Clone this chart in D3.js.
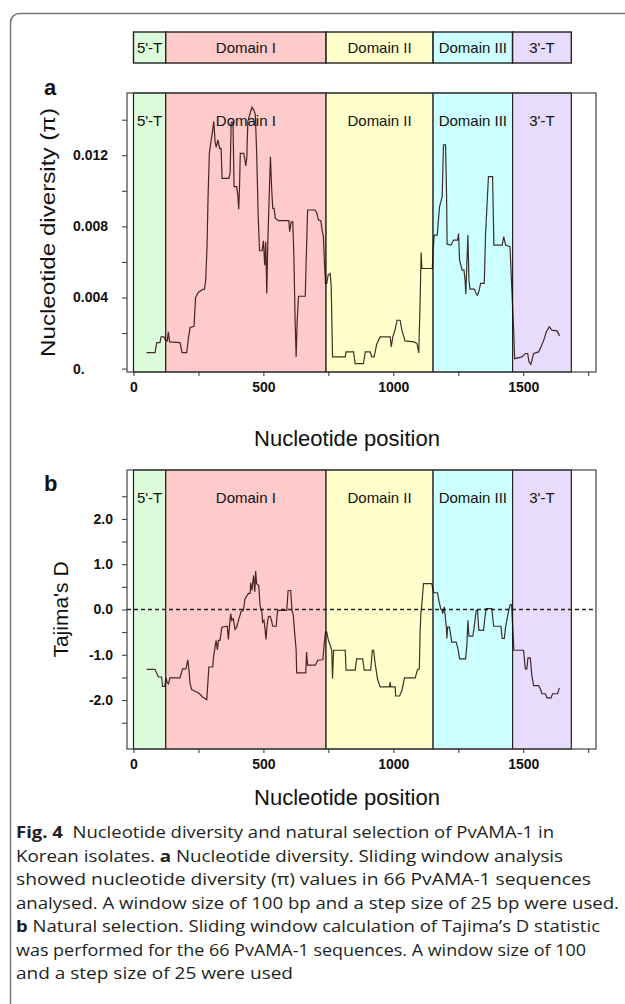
<!DOCTYPE html>
<html lang="en">
<head>
<meta charset="UTF-8" />
<title>PvAMA-1 sliding window</title>
<script src="https://d3js.org/d3.v7.min.js"></script>
<style>
  body { margin: 0; background: #fff; }
  svg { display: block; font-family: "Liberation Sans", Arial, sans-serif; }
  .tick text { font-weight: bold; font-size: 14px; fill: #111; font-family: "Liberation Sans", Arial, sans-serif; }
  .caption { font-family: "Open Sans", sans-serif; font-size: 16px; fill: #231f20; }
</style>
</head>
<body>
<svg id="fig" width="625" height="1004"></svg>
<script>
// gene regions
const regionNames = ["5'-T", "Domain I", "Domain II", "Domain III", "3'-T"];
const regionStart = [0, 124, 741, 1153, 1459];
const regionEnd = [124, 741, 1153, 1459, 1685];
const regionColors = ["#dcfcdc", "#ffcaca", "#ffffcc", "#ccffff", "#e8dcfc"];

// nucleotide diversity (pi)
const piPos = [50,83,89,102,106,117,123,130,134,139,179,187,205,211,218,233,239,250,266,273,
  278,283,287,292,298,304,309,314,318,325,331,337,341,367,372,376,383,387,397,402,
  405,408,411,424,428,432,436,440,449,456,464,469,474,480,485,495,500,505,509,513,
  517,523,527,532,536,541,546,558,598,601,607,613,617,622,626,630,635,661,664,670,
  699,705,712,721,726,731,735,739,744,749,757,761,766,815,818,847,853,885,892,911,
  917,926,936,949,988,992,998,1007,1014,1026,1033,1045,1080,1091,1098,1103,1107,1110,1150,1153,
  1157,1169,1173,1178,1188,1193,1201,1205,1207,1222,1232,1247,1251,1255,1265,1272,1276,1279,1283,1287,
  1291,1295,1312,1317,1323,1329,1336,1350,1355,1361,1366,1382,1387,1419,1425,1432,1449,1454,1463,1467,
  1495,1508,1517,1522,1529,1540,1559,1568,1578,1589,1600,1610,1630,1640];
const piVal = [0.0009,0.0009,0.00146,0.00146,0.00178,0.00178,0.0016,0.00156,0.00207,0.0015,
  0.00146,0.0009,0.0009,0.00169,0.00231,0.00238,0.004,0.0043,0.00445,0.00447,
  0.00497,0.00685,0.00967,0.01211,0.01277,0.01333,0.0139,0.01277,0.01245,0.01286,
  0.01239,0.01239,0.0107,0.0107,0.01102,0.01385,0.01385,0.01023,0.01023,0.00967,
  0.00896,0.01023,0.01211,0.01211,0.01183,0.0114,0.01183,0.0139,0.01436,0.0147,
  0.01451,0.01427,0.01211,0.00854,0.00663,0.00663,0.00719,0.00582,0.00714,0.00422,
  0.00714,0.01005,0.01192,0.01005,0.00901,0.00901,0.00845,0.00832,0.00832,0.0077,
  0.00826,0.00826,0.00648,0.00272,0.00066,0.00272,0.00407,0.00407,0.00573,0.00892,
  0.00892,0.00877,0.00836,0.00832,0.00776,0.00742,0.00591,0.00479,0.00479,0.00526,
  0.00535,0.0046,0.00066,0.00066,0.00094,0.00094,0.00028,0.00028,0.00094,0.00094,
  0.00066,0.00066,0.00137,0.00178,0.00178,0.00122,0.00178,0.0022,0.00272,0.00272,
  0.00216,0.00156,0.0015,0.00141,0.00088,0.00375,0.00653,0.00563,0.00563,0.00653,
  0.00751,0.00751,0.00826,0.00911,0.00967,0.01258,0.01258,0.00967,0.007,0.00695,
  0.00723,0.00723,0.0076,0.0061,0.00554,0.00554,0.00498,0.00418,0.00591,0.00751,
  0.00498,0.00447,0.00447,0.00428,0.00413,0.00432,0.00479,0.00479,0.0076,0.00929,
  0.0108,0.0108,0.00695,0.00695,0.00742,0.00695,0.00685,0.00516,0.00216,0.00056,
  0.00066,0.00085,0.00085,0.00038,0.00024,0.00085,0.00094,0.00122,0.00156,0.00207,
  0.00235,0.00216,0.00212,0.00184];

// Tajima's D
const tajPos = [51,83,89,96,108,112,120,125,130,135,140,179,183,189,202,209,213,218,224,243,
  254,266,282,286,290,305,308,318,323,327,333,340,361,365,369,374,378,384,391,397,
  404,414,423,429,442,449,451,456,462,467,470,474,482,487,494,497,502,506,510,514,
  519,526,531,536,549,554,558,590,595,605,610,615,621,626,628,635,663,666,670,677,
  700,709,729,734,739,744,750,757,763,766,770,815,818,853,859,882,888,913,919,924,
  931,939,949,985,988,990,1007,1009,1024,1033,1043,1084,1093,1100,1103,1106,1111,1116,1148,1155,
  1170,1175,1183,1188,1190,1196,1204,1206,1209,1216,1225,1242,1250,1255,1278,1283,1287,1291,1306,1312,
  1319,1324,1329,1347,1352,1357,1379,1386,1414,1419,1427,1432,1444,1450,1455,1460,1464,1501,1508,1514,
  1518,1527,1533,1540,1559,1566,1572,1585,1591,1607,1613,1632,1639];
const tajVal = [-1.32,-1.32,-1.40,-1.49,-1.49,-1.70,-1.70,-1.51,-1.62,-1.64,-1.51,-1.51,-1.42,-1.31,-1.31,-1.11,-1.31,-1.64,-1.77,-1.82,
  -1.86,-1.93,-1.99,-1.64,-1.27,-1.27,-1.05,-0.68,-0.89,-0.68,-0.68,-0.39,-0.37,-0.66,-0.39,-0.09,-0.24,-0.20,-0.44,-0.39,
  -0.24,-0.05,-0.02,0.24,0.35,0.36,0.59,0.42,0.75,0.39,0.85,0.57,0.53,0.09,-0.05,-0.28,-0.24,-0.42,-0.66,-0.35,
  -0.16,-0.15,-0.24,-0.37,-0.37,-0.05,-0.02,-0.02,0.42,0.42,-0.02,-0.13,-0.57,-0.90,-1.40,-1.40,-1.40,-0.94,-1.23,-1.23,
  -1.23,-1.12,-1.11,-0.75,-0.50,-0.50,-0.68,-0.79,-0.90,-1.53,-0.90,-0.90,-1.34,-1.34,-1.09,-1.09,-1.34,-1.34,-0.90,-0.90,
  -1.23,-1.53,-1.71,-1.71,-1.60,-1.71,-1.71,-1.91,-1.91,-1.79,-1.51,-1.51,-1.33,-1.31,-0.50,-0.09,0.20,0.57,0.57,0.37,
  0.37,0.20,0.00,-0.02,-0.09,0.06,-0.39,-0.64,-0.39,-0.39,-0.72,-0.72,-0.90,-1.09,-1.09,-0.79,-0.24,-0.59,-0.59,-0.35,
  -0.02,-0.02,-0.46,-0.46,-0.20,0.02,0.02,-0.37,-0.37,-0.64,-0.64,-0.39,-0.02,0.11,0.11,-0.46,-0.90,-0.90,-1.31,-1.31,
  -1.07,-1.07,-1.45,-1.68,-1.68,-1.75,-1.86,-1.86,-1.95,-1.95,-1.86,-1.86,-1.73];

// axes
const xTicks = [0, 250, 500, 750, 1000, 1250, 1500, 1750];
const xLabeled = [0, 500, 1000, 1500];
const piTicks = [0, 0.002, 0.004, 0.006, 0.008, 0.010, 0.012, 0.014];
const piTickLabels = ["0.", "", "0.004", "", "0.008", "", "0.012", ""];
const tajTicks = [-2.5, -2, -1.5, -1, -0.5, 0, 0.5, 1, 1.5, 2, 2.5];
const tajTickLabels = ["", "-2.0", "", "-1.0", "", "0.0", "", "1.0", "", "2.0", ""];

const captionLines = [
  [["Fig. 4", true], ["  Nucleotide diversity and natural selection of PvAMA-1 in", false]],
  [["Korean isolates. ", false], ["a", true], [" Nucleotide diversity. Sliding window analysis", false]],
  [["showed nucleotide diversity (\u03c0) values in 66 PvAMA-1 sequences", false]],
  [["analysed. A window size of 100 bp and a step size of 25 bp were used.", false]],
  [["b", true], [" Natural selection. Sliding window calculation of Tajima\u2019s D statistic", false]],
  [["was performed for the 66 PvAMA-1 sequences. A window size of 100", false]],
  [["and a step size of 25 were used", false]]
];
const captionWidths = [538, 547, 575, 603, 584, 570, 277];

const svg = d3.select("#fig");
const left = 127, right = 596;
const x = d3.scaleLinear().domain([-25, 1780]).range([left, right]);

// outer frame
svg.append("rect")
  .attr("x", 10.5).attr("y", 13.5).attr("width", 700).attr("height", 1100)
  .attr("rx", 9).attr("fill", "none").attr("stroke", "#777").attr("stroke-width", 1.5);

// region legend bar
const legend = svg.append("g");
regionNames.forEach((name, i) => {
  legend.append("rect")
    .attr("x", x(regionStart[i])).attr("y", 32)
    .attr("width", x(regionEnd[i]) - x(regionStart[i])).attr("height", 31)
    .attr("fill", regionColors[i]).attr("stroke", "#222").attr("stroke-width", 1.4);
  legend.append("text")
    .attr("x", (x(regionStart[i]) + x(regionEnd[i])) / 2).attr("y", 53)
    .attr("text-anchor", "middle").attr("font-size", 15).attr("fill", "#111")
    .text(name);
});

function drawPanel(p) {
  const g = svg.append("g");
  const y = d3.scaleLinear().domain(p.yDomain).range([p.bottom, p.top]);

  g.append("rect")
    .attr("x", left).attr("y", p.top).attr("width", right - left).attr("height", p.bottom - p.top)
    .attr("fill", "#fff");

  regionNames.forEach((name, i) => {
    g.append("rect")
      .attr("x", x(regionStart[i])).attr("y", p.top)
      .attr("width", x(regionEnd[i]) - x(regionStart[i])).attr("height", p.bottom - p.top)
      .attr("fill", regionColors[i]).attr("stroke", "#222").attr("stroke-width", 1.2);
    g.append("text")
      .attr("x", (x(regionStart[i]) + x(regionEnd[i])) / 2).attr("y", p.top + 33)
      .attr("text-anchor", "middle").attr("font-size", 15).attr("fill", "#111")
      .text(name);
  });

  if (p.zeroLine) {
    g.append("line")
      .attr("x1", left).attr("x2", right).attr("y1", y(0)).attr("y2", y(0))
      .attr("stroke", "#222").attr("stroke-width", 1.3).attr("stroke-dasharray", "4,3");
  }

  const pts = p.pos.map((d, i) => [d, p.val[i]]);
  g.append("path")
    .datum(pts)
    .attr("fill", "none").attr("stroke", "rgba(30,0,0,0.82)").attr("stroke-width", 1.2)
    .attr("d", d3.line().x(d => x(d[0])).y(d => y(d[1])));

  g.append("rect")
    .attr("x", left).attr("y", p.top).attr("width", right - left).attr("height", p.bottom - p.top)
    .attr("fill", "none").attr("stroke", "#444").attr("stroke-width", 1.2);

  const yAxis = g.append("g")
    .attr("transform", `translate(${left},0)`)
    .call(d3.axisLeft(y).tickValues(p.ticks).tickSize(5).tickPadding(8)
      .tickFormat((d, i) => p.tickLabels[i]));
  yAxis.select(".domain").remove();
  yAxis.selectAll(".tick line").attr("stroke", "#333");
  if (p.labelStart) {
    yAxis.selectAll(".tick text").attr("text-anchor", "start").attr("x", p.labelStart - left);
  } else {
    yAxis.selectAll(".tick text").attr("x", -14);
  }

  const xAxis = g.append("g")
    .attr("transform", `translate(0,${p.bottom})`)
    .call(d3.axisBottom(x).tickValues(xTicks).tickSize(4).tickPadding(6)
      .tickFormat(d => xLabeled.includes(d) ? d : ""));
  xAxis.select(".domain").remove();
  xAxis.selectAll(".tick line").attr("stroke", "#333");

  g.append("text")
    .attr("x", 44).attr("y", p.letterY)
    .attr("font-size", 22).attr("font-weight", "bold").attr("fill", "#111")
    .text(p.letter);

  const cy = (p.top + p.bottom) / 2;
  const yt = g.append("text")
    .attr("transform", `translate(${p.titleX},${cy}) rotate(-90)`)
    .attr("text-anchor", "middle").attr("font-size", 21).attr("fill", "#111")
    .text(p.title);
  if (p.titleLen) yt.attr("textLength", p.titleLen).attr("lengthAdjust", "spacingAndGlyphs");

  g.append("text")
    .attr("x", 347).attr("y", p.xTitleY)
    .attr("text-anchor", "middle").attr("font-size", 22).attr("fill", "#111")
    .text("Nucleotide position");
}

drawPanel({
  top: 93, bottom: 372, yDomain: [-0.00019, 0.0155],
  pos: piPos, val: piVal, ticks: piTicks, tickLabels: piTickLabels, labelStart: 73,
  letter: "a", letterY: 95, xTitleY: 446,
  title: "Nucleotide diversity (\u03c0)", titleX: 55, titleLen: 249
});

drawPanel({
  top: 470, bottom: 749, yDomain: [-3.08, 3.08],
  pos: tajPos, val: tajVal, ticks: tajTicks, tickLabels: tajTickLabels,
  letter: "b", letterY: 491, xTitleY: 805,
  title: "Tajima's D", titleX: 68, zeroLine: true
});

// caption
const cap = svg.append("g").attr("class", "caption");
captionLines.forEach((line, i) => {
  const t = cap.append("text")
    .attr("x", 16).attr("y", 838 + i * 23.5)
    .attr("textLength", captionWidths[i]).attr("lengthAdjust", "spacingAndGlyphs")
    .attr("xml:space", "preserve");
  line.forEach(([s, bold]) => {
    t.append("tspan").attr("font-weight", bold ? "bold" : null).text(s);
  });
});
</script>
</body>
</html>
